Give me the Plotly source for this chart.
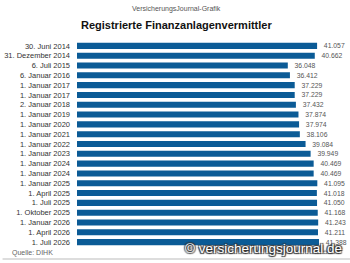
import plotly.graph_objects as go

labels = ["30. Juni 2014", "31. Dezember 2014", "6. Juli 2015", "6. Januar 2016",
          "1. Januar 2017", "1. Januar 2017", "2. Januar 2018", "1. Januar 2019",
          "1. Januar 2020", "1. Januar 2021", "1. Januar 2022", "1. Januar 2023",
          "1. Januar 2024", "1. Januar 2024", "1. Januar 2025", "1. April 2025",
          "1. Juli 2025", "1. Oktober 2025", "1. Januar 2026", "1. April 2026",
          "1. Juli 2026"]
values = [41057, 40662, 36048, 36412, 37229, 37229, 37432, 37874, 37974, 38106,
          39084, 39949, 40469, 40469, 41095, 41018, 41050, 41168, 41243, 41211, 41388]

pos = list(range(len(labels)))
texts = [f"{v:,}".replace(",", ".") for v in values]

W, H = 350, 263
L, R, T, B = 75, 4, 41, 16

fig = go.Figure(go.Bar(
    x=values, y=pos, orientation="h", width=0.62,
    marker=dict(color="#0b5b96", line=dict(width=0)),
    text=texts, texttemplate="\u00a0\u00a0%{text}",
    textposition="outside", cliponaxis=False, constraintext="none",
    textfont=dict(size=6.8, color="#555", family="Liberation Sans"),
))

fig.update_layout(
    width=W, height=H, margin=dict(l=L, r=R, t=T, b=B),
    paper_bgcolor="white", plot_bgcolor="white", showlegend=False,
    font=dict(family="Liberation Sans", size=7.5, color="#333"),
    xaxis=dict(range=[0, 46000], visible=False, fixedrange=True),
    yaxis=dict(range=[len(labels) - 0.5, -0.5], tickvals=pos, ticktext=labels,
               showgrid=False, zeroline=False, showline=False, ticks="",
               ticklabelstandoff=6, tickfont=dict(size=7.5, color="#333")),
    annotations=[
        dict(text="VersicherungsJournal-Grafik", xref="paper", yref="paper",
             x=(175 - L) / (W - L - R), y=1 + (T - 9) / (H - T - B),
             xanchor="center", yanchor="middle", showarrow=False,
             font=dict(size=7, color="#555")),
        dict(text="<b>Registrierte Finanzanlagenvermittler</b>", xref="paper", yref="paper",
             x=(175 - L) / (W - L - R), y=1 + (T - 25) / (H - T - B),
             xanchor="center", yanchor="middle", showarrow=False,
             font=dict(size=11, color="#111", family="Liberation Sans")),
        dict(text="Quelle: DIHK", xref="paper", yref="paper",
             x=(7 - L) / (W - L - R), y=-(253 - (H - B)) / (H - T - B),
             xanchor="left", yanchor="middle", showarrow=False,
             font=dict(size=7, color="#666")),
        dict(text="© versicherungsjournal.de", xref="paper", yref="paper",
             x=(344 - L) / (W - L - R), y=-(248 - (H - B)) / (H - T - B),
             xanchor="right", yanchor="middle", showarrow=False,
             font=dict(size=13.5, color="white", family="Liberation Sans",
                       shadow="1px 1px 1px #333, -1px -1px 1px #333, 1px -1px 1px #333, -1px 1px 1px #333")),
    ],
    shapes=[
        dict(type="line", xref="paper", yref="paper",
             x0=-L / (W - L - R), x1=1 + R / (W - L - R),
             y0=-(259 - (H - B)) / (H - T - B), y1=-(259 - (H - B)) / (H - T - B),
             line=dict(color="#ddd", width=2)),
    ],
)

fig.write_html("out.html")
